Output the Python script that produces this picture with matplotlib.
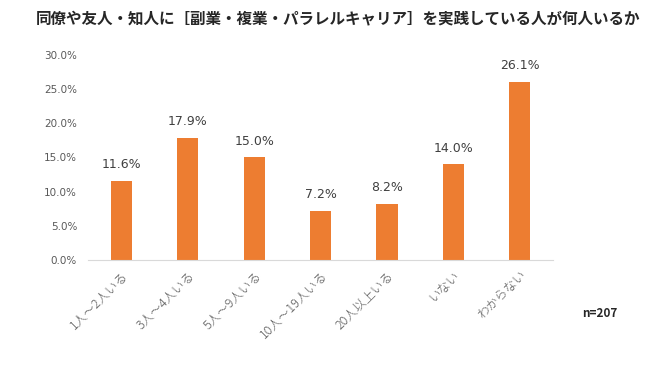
import matplotlib.pyplot as plt
from matplotlib.ticker import PercentFormatter

plt.rcParams['font.family'] = ['Noto Sans CJK JP', 'DejaVu Sans']

# データ
categories = ["1人～2人いる", "3人～4人いる", "5人～9人いる", "10人～19人いる",
              "20人以上いる", "いない", "わからない"]
values = [11.6, 17.9, 15.0, 7.2, 8.2, 14.0, 26.1]
yticks = [0, 5, 10, 15, 20, 25, 30]

title = "同僚や友人・知人に［副業・複業・パラレルキャリア］を実践している人が何人いるか"

fig = plt.figure(figsize=(6.63, 3.65), dpi=100)
ax = fig.add_axes([0.133, 0.288, 0.701, 0.561])

x = range(len(categories))
bars = ax.bar(x, values, width=0.32, color="#ED7D31")
for xi, v in zip(x, values):
    ax.text(xi, v + 1.4, f"{v:.1f}%", ha="center", va="bottom",
            fontsize=9, color="#404040", family=['DejaVu Sans'])

ax.set_xlim(-0.5, len(categories) - 0.5)
ax.set_ylim(0, 30)
ax.set_yticks(yticks)
ax.yaxis.set_major_formatter(PercentFormatter(decimals=1))
ax.set_xticks(list(x))
ax.set_xticklabels(categories, rotation=45, ha="right", rotation_mode="anchor",
                   fontsize=9, color="#595959", fontweight="light")
for lbl in ax.get_yticklabels():
    lbl.set_fontsize(7.5)
    lbl.set_color("#595959")
    lbl.set_family(['DejaVu Sans'])

for s in ["top", "right", "left"]:
    ax.spines[s].set_visible(False)
ax.spines["bottom"].set_color("#D9D9D9")
ax.tick_params(axis="both", length=0)
ax.tick_params(axis="y", pad=8)
ax.tick_params(axis="x", pad=6)

fig.text(0.51, 0.95, title, ha="center", va="center", fontsize=11.2,
         fontweight="bold", color="#262626")
fig.text(0.905, 0.14, "n=207", ha="center", va="center", fontsize=8.5,
         fontweight="bold", color="#262626")

fig.savefig("out.png", dpi=100)
